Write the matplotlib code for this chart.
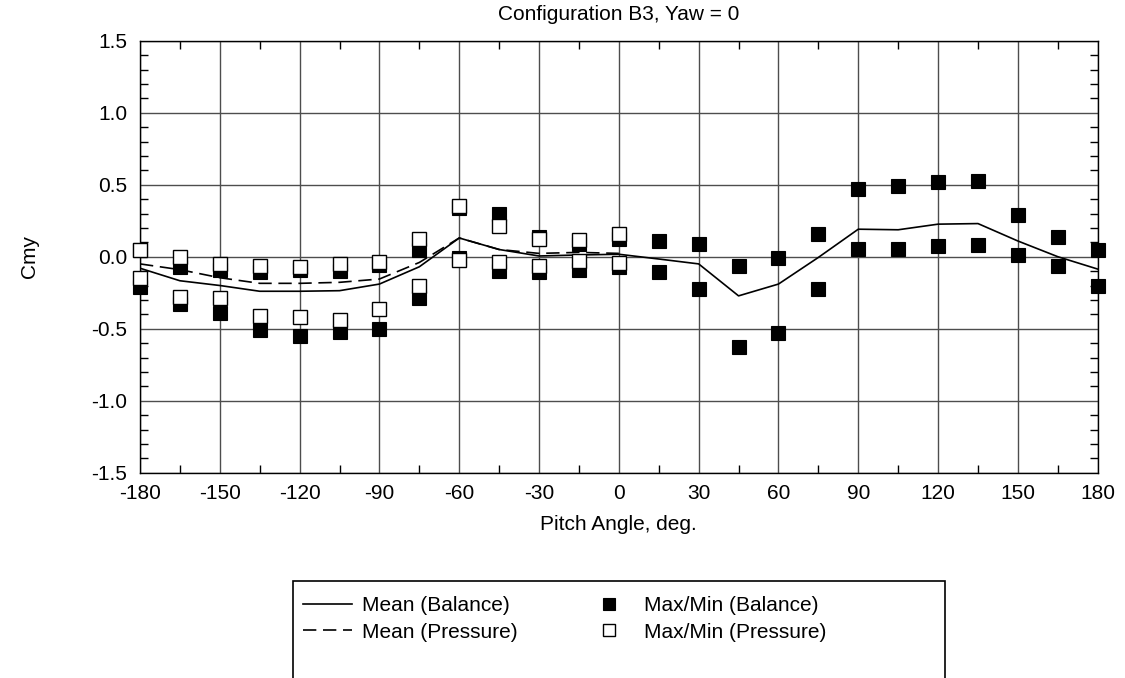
import numpy as np
import matplotlib
matplotlib.use("Agg")
import matplotlib.pyplot as plt
from matplotlib.ticker import MultipleLocator
from matplotlib.patches import Rectangle

plt.rcParams['font.family'] = ['Liberation Sans', 'DejaVu Sans']
plt.rcParams['axes.unicode_minus'] = False

# pitch angles
pitch_bal = np.arange(-180, 181, 15)
pitch_prs = np.arange(-180, 1, 15)

# balance data (-180..180)
bal_mean = [-0.08, -0.167, -0.20, -0.24, -0.24, -0.236, -0.19, -0.07, 0.13, 0.05, 0.005, 0.012, 0.017,
            -0.016, -0.05, -0.272, -0.19, -0.005, 0.191, 0.187, 0.226, 0.23, 0.109, 0.0, -0.086]
bal_max = [0.05, -0.07, -0.09, -0.105, -0.095, -0.097, -0.06, 0.05, 0.34, 0.295, 0.135, 0.09, 0.12,
           0.11, 0.085, -0.065, -0.012, 0.161, 0.472, 0.491, 0.516, 0.525, 0.289, 0.134, 0.044]
bal_min = [-0.21, -0.33, -0.39, -0.51, -0.55, -0.525, -0.50, -0.29, -0.01, -0.097, -0.108, -0.09, -0.074,
           -0.104, -0.226, -0.627, -0.532, -0.226, 0.051, 0.051, 0.074, 0.083, 0.009, -0.0625, -0.204]

# pressure data (-180..0)
prs_mean = [-0.05, -0.09, -0.146, -0.185, -0.185, -0.178, -0.155, -0.04, 0.13, 0.05, 0.023, 0.03, 0.023]
prs_max = [0.044, -0.005, -0.05, -0.065, -0.07, -0.05, -0.035, 0.12, 0.35, 0.215, 0.125, 0.114, 0.155]
prs_min = [-0.15, -0.28, -0.29, -0.41, -0.42, -0.44, -0.36, -0.20, -0.02, -0.037, -0.062, -0.03, -0.044]

W, H = 1125, 678
fig = plt.figure(figsize=(W / 100, H / 100), dpi=100)
ax = fig.add_axes([140 / W, 1 - 472.7 / H, (1097.7 - 140) / W, (472.7 - 40.7) / H])

ax.plot(pitch_bal, bal_mean, color='black', lw=1.2, label='Mean (Balance)', zorder=3)
ax.plot(pitch_prs, prs_mean, color='black', lw=1.2, dashes=(8, 4), label='Mean (Pressure)', zorder=3)

ms = 10
ax.plot(pitch_bal, bal_max, 's', color='black', ms=ms, mew=0.8, clip_on=False, zorder=4,
        label='Max/Min (Balance)')
ax.plot(pitch_bal, bal_min, 's', color='black', ms=ms, mew=0.8, clip_on=False, zorder=4)
ax.plot(pitch_prs, prs_max, 's', mfc='white', mec='black', ms=ms, mew=1.0, clip_on=False, zorder=5,
        label='Max/Min (Pressure)')
ax.plot(pitch_prs, prs_min, 's', mfc='white', mec='black', ms=ms, mew=1.0, clip_on=False, zorder=5)

ax.set_xlim(-180, 180)
ax.set_ylim(-1.5, 1.5)
ax.xaxis.set_major_locator(MultipleLocator(30))
ax.xaxis.set_minor_locator(MultipleLocator(15))
ax.yaxis.set_major_locator(MultipleLocator(0.5))
ax.yaxis.set_minor_locator(MultipleLocator(0.1))
ax.set_yticklabels([f'{v:.1f}' for v in ax.get_yticks()])
ax.grid(True, which='major', color='0.3', lw=1.0)
ax.set_axisbelow(True)

ax.tick_params(which='both', direction='in', top=True, right=True, labelsize=15)
ax.tick_params(which='major', length=0)
ax.tick_params(which='minor', length=6, width=1)
ax.tick_params(axis='x', pad=8)
ax.tick_params(axis='y', pad=9)
for s in ax.spines.values():
    s.set_linewidth(1.0)

ax.set_title('Configuration B3, Yaw = 0', fontsize=15, pad=15)
ax.set_xlabel('Pitch Angle, deg.', fontsize=15, labelpad=9)
ax.set_ylabel('Cmy', fontsize=15, labelpad=38)

# legend box (runs off the bottom edge like the original)
fig.patches.append(Rectangle((293 / W, -0.05), (945 - 293) / W, (1 - 580.7 / H) + 0.05,
                             transform=fig.transFigure, fill=False, ec='black', lw=1.2))
fig.legend(ncol=2, loc='upper left', bbox_to_anchor=(303 / W, 1 - 596 / H), frameon=False,
           fontsize=15, borderpad=0, borderaxespad=0, handlelength=2.35, handletextpad=0.5,
           columnspacing=3.2, labelspacing=0.36, markerscale=0.85)

fig.savefig('out.png', dpi=100)
